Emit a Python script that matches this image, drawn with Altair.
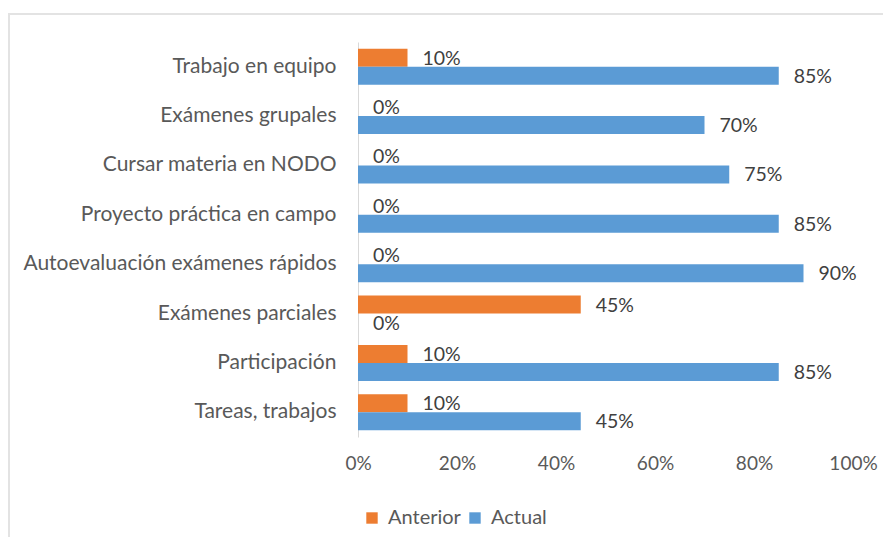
import altair as alt
import pandas as pd

categories = [
    "Trabajo en equipo",
    "Exámenes grupales",
    "Cursar materia en NODO",
    "Proyecto práctica en campo",
    "Autoevaluación exámenes rápidos",
    "Exámenes parciales",
    "Participación",
    "Tareas, trabajos",
]
anterior = [0.10, 0.0, 0.0, 0.0, 0.0, 0.45, 0.10, 0.10]
actual = [0.85, 0.70, 0.75, 0.85, 0.90, 0.0, 0.85, 0.45]
series = ["Anterior", "Actual"]
colors = ["#ED7D31", "#5B9BD5"]

rows = []
for c, a, b in zip(categories, anterior, actual):
    rows.append({"cat": c, "serie": "Anterior", "v": a})
    rows.append({"cat": c, "serie": "Actual", "v": b})
df = pd.DataFrame(rows)

FONT = "Lato"

y_enc = alt.Y("cat:N", sort=categories, title=None,
              scale=alt.Scale(paddingInner=0.27, paddingOuter=0.135),
              axis=alt.Axis(labelFontSize=21, labelColor="#595959", labelFont=FONT,
                            ticks=False, domainColor="#D9D9D9", labelPadding=22,
                            labelLimit=400))
yoff = alt.YOffset("serie:N", sort=series)
x_enc = alt.X("v:Q", title=None,
              scale=alt.Scale(domain=[0, 1], nice=False),
              axis=alt.Axis(format=".0%", values=[0, 0.2, 0.4, 0.6, 0.8, 1.0],
                            labelFontSize=19, labelColor="#595959", labelFont=FONT,
                            labelFlush=False,
                            domain=False, ticks=False, grid=False, labelPadding=17))

bars = alt.Chart(df).mark_bar(size=18).encode(
    y=y_enc, yOffset=yoff, x=x_enc,
    color=alt.Color("serie:N", sort=series,
                    scale=alt.Scale(domain=series, range=colors),
                    legend=alt.Legend(title=None, orient="none", direction="horizontal",
                                      legendX=4, legendY=466, symbolType="square",
                                      symbolSize=130, symbolStrokeWidth=0,
                                      labelOffset=6,
                                      labelFontSize=20, labelColor="#595959",
                                      labelFont=FONT, columnPadding=4)),
)

labels = alt.Chart(df).mark_text(align="left", baseline="middle", dx=15, dy=1,
                                 fontSize=19.5, font=FONT, color="#404040").encode(
    y=alt.Y("cat:N", sort=categories), yOffset=yoff,
    x=alt.X("v:Q"),
    text=alt.Text("v:Q", format=".0%"),
)

top_border = alt.Chart(pd.DataFrame({"k": [0]})).mark_rule(color="#E3E3E3", strokeWidth=2).encode(
    x=alt.value(-350), x2=alt.value(540), y=alt.value(-28))
left_border = alt.Chart(pd.DataFrame({"k": [0]})).mark_rule(color="#E3E3E3", strokeWidth=2).encode(
    x=alt.value(-349), y=alt.value(-29), y2=alt.value(500))

chart = alt.layer(top_border, left_border, bars, labels).properties(
    width=495, height=395,
    autosize=alt.AutoSizeParams(type="none"),
    padding={"left": 350, "top": 34, "right": 30, "bottom": 100},
).configure(font=FONT).configure_view(strokeWidth=0, stroke=None)

chart.save("out.html", embed_options={"renderer": "svg", "actions": False})
